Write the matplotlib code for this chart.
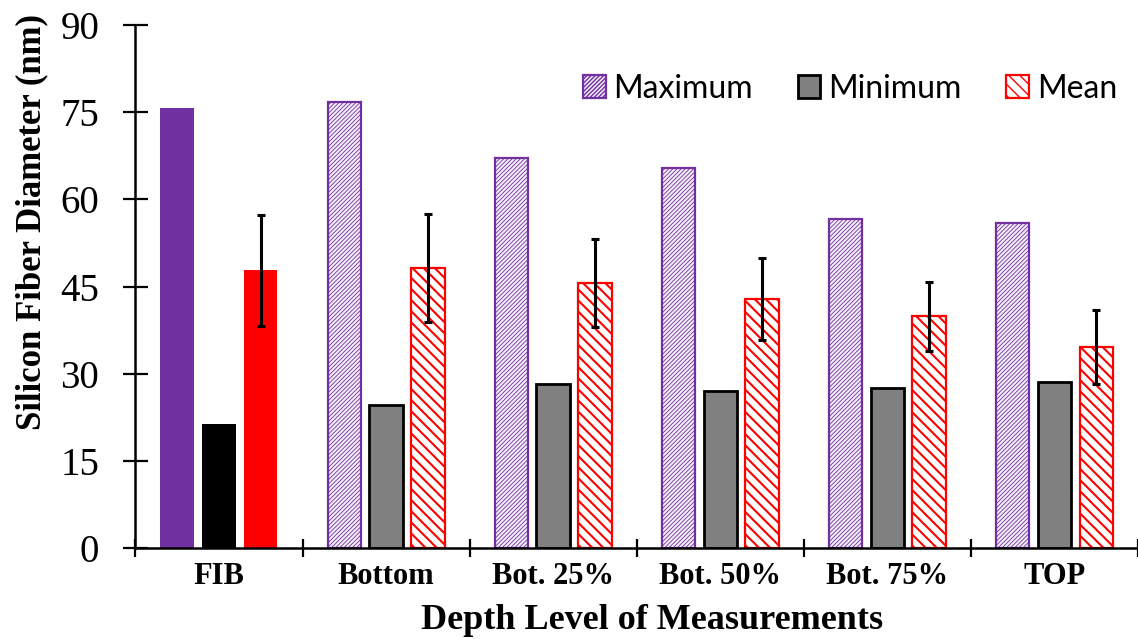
import matplotlib.pyplot as plt
import numpy as np

# data
categories = ['FIB', 'Bottom', 'Bot. 25%', 'Bot. 50%', 'Bot. 75%', 'TOP']
maximum = [75.7, 76.8, 67.1, 65.4, 56.6, 55.9]
minimum = [21.3, 24.6, 28.2, 27.0, 27.5, 28.6]
mean = [47.8, 48.2, 45.6, 42.9, 39.9, 34.6]
mean_err = [9.5, 9.3, 7.6, 7.1, 5.9, 6.3]

purple = '#7030A0'
serif = 'Liberation Serif'

fig = plt.figure(figsize=(11.38, 6.39), dpi=100)
ax = fig.add_axes([0.119, 0.142, 0.881, 0.819])

x = np.arange(len(categories))
w = 0.2
off = 0.25

# FIB group is solid, others hatched
ax.bar(x[0] - off, maximum[0], w, color=purple)
ax.bar(x[0], minimum[0], w, color='black')
ax.bar(x[0] + off, mean[0], w, color='red')

with plt.rc_context({'hatch.linewidth': 0.6}):
    ax.bar(x[1:] - off, maximum[1:], w, facecolor='#F4EEF8', edgecolor=purple,
           hatch='////////', linewidth=1.6, label='Maximum')
ax.bar(x[1:], minimum[1:], w, facecolor='#808080', edgecolor='black',
       linewidth=2, label='Minimum')
with plt.rc_context({'hatch.linewidth': 1.5}):
    ax.bar(x[1:] + off, mean[1:], w, facecolor='white', edgecolor='red',
           hatch='\\\\\\', linewidth=1.6, label='Mean')

ax.errorbar(x + off, mean, yerr=mean_err, fmt='none', ecolor='black',
            elinewidth=2.2, capsize=3, capthick=2.2)

ax.set_xlim(-0.5, len(categories) - 0.5)
ax.set_ylim(0, 90)
ax.set_yticks(np.arange(0, 91, 15))
ax.set_xticks(x)
ax.set_xticklabels(categories, fontfamily=serif, fontweight='bold',
                   fontsize=22)
ax.set_xticks(np.arange(-0.5, len(categories), 1), minor=True)
ax.tick_params(axis='x', which='major', length=0, pad=10)
ax.tick_params(axis='x', which='minor', direction='inout', length=13, width=1.6)
ax.tick_params(axis='y', direction='inout', length=18, width=1.6,
               labelsize=28, pad=17)
for lab in ax.get_yticklabels():
    lab.set_fontfamily(serif)

for s in ['top', 'right']:
    ax.spines[s].set_visible(False)
ax.spines['left'].set_linewidth(1.8)
ax.spines['bottom'].set_linewidth(1.8)

ax.set_ylabel('Silicon Fiber Diameter (nm)', fontfamily=serif,
              fontweight='bold', fontsize=25)
ax.yaxis.set_label_coords(-0.087, 0.623)
ax.set_xlabel('Depth Level of Measurements', fontfamily=serif,
              fontweight='bold', fontsize=26)
ax.xaxis.set_label_coords(0.515, -0.106)

ax.legend(loc='center right', bbox_to_anchor=(0.979, 0.878), ncol=3,
          frameon=False, prop={'family': 'Lato', 'size': 23},
          handlelength=0.7, handleheight=0.7, columnspacing=1.4,
          handletextpad=0.25, borderpad=0, borderaxespad=0)

fig.savefig('out.png', dpi=100)
